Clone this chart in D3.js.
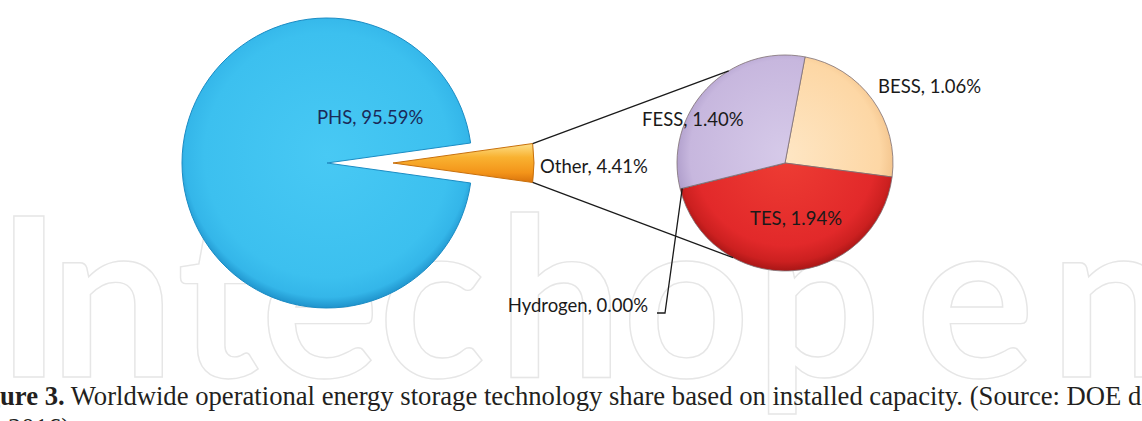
<!DOCTYPE html>
<html>
<head>
<meta charset="utf-8">
<script src="https://cdn.jsdelivr.net/npm/d3@7"></script>
<style>
  body { margin: 0; background: #fff; }
</style>
</head>
<body>
<svg id="chart" width="1142" height="421"></svg>
<script>
// main pie: "Other" is split out into the second pie
const mainNames = ["Other", "PHS"];
const mainValues = [4.41, 95.59];
// second pie (breakdown of Other)
const subNames = ["BESS", "TES", "Hydrogen", "FESS"];
const subValues = [1.06, 1.94, 0.00, 1.40];

const watermarkLetters = ["I", "n", "t", "e", "c", "h", "o", "p", "e", "n"];
const captionBold = "Figure 3.";
const captionRest = " Worldwide operational energy storage technology share based on installed capacity. (Source: DOE data)";
const captionNext = "2016).";

const width = 1142, height = 421;
const svg = d3.select("#chart");
svg.append("rect").attr("width", width).attr("height", height).attr("fill", "#fff");

const defs = svg.append("defs");

// gradients live in the local coords of the pie groups (centre = 0,0)
function radial(id, r, stops) {
    const g = defs.append("radialGradient").attr("id", id)
        .attr("gradientUnits", "userSpaceOnUse")
        .attr("cx", 0).attr("cy", -8).attr("r", r);
    stops.forEach(([o, c]) => g.append("stop").attr("offset", o).attr("stop-color", c));
}

const main = { cx: 327, cy: 163, r: 145, explode: 66 };
const sub = { cx: 785, cy: 163, r: 108 };

radial("gBlue", main.r + 8,
    [[0, "#48c9f4"], [0.8, "#3cc0ef"], [0.93, "#34b6e9"], [1, "#1f93cc"]]);
radial("gRed", sub.r + 8,
    [[0, "#ee3d34"], [0.78, "#e2292a"], [0.92, "#cc2020"], [1, "#a81616"]]);
radial("gPeach", sub.r + 8,
    [[0, "#fee6c4"], [0.82, "#fdd7a5"], [1, "#efbc82"]]);
radial("gLav", sub.r + 8,
    [[0, "#d6cae9"], [0.82, "#c7b7de"], [1, "#a694c4"]]);

const og = defs.append("linearGradient").attr("id", "gOrange")
    .attr("x1", 0).attr("y1", 0).attr("x2", 0).attr("y2", 1);
[[0, "#fde08a"], [0.35, "#f9b231"], [0.75, "#f39419"], [1, "#d9720b"]]
    .forEach(([o, c]) => og.append("stop").attr("offset", o).attr("stop-color", c));

// watermark behind everything
const wmCenters = [29, 112, 218, 320, 432, 560, 686, 818, 975, 1112];
svg.append("g")
    .selectAll("text")
    .data(watermarkLetters)
    .enter().append("text")
    .attr("x", (d, i) => wmCenters[i])
    .attr("y", 377)
    .attr("text-anchor", "middle")
    .attr("font-family", "Lato, sans-serif")
    .attr("font-weight", 700)
    .attr("font-size", 222)
    .attr("fill", "none")
    .attr("stroke", "#e6e6e6")
    .attr("stroke-width", 1.4)
    .text(d => d);

// ---- main pie ----
const half = Math.PI * mainValues[0] / 100;
const mainPie = d3.pie().sort(null).value(d => d)
    .startAngle(Math.PI / 2 - half).endAngle(Math.PI / 2 - half + 2 * Math.PI);
const mainArcs = mainPie(mainValues);
const arcMain = d3.arc().innerRadius(0).outerRadius(main.r);
const arcOther = d3.arc().innerRadius(0).outerRadius(main.r - 4);

const mainColors = ["url(#gOrange)", "url(#gBlue)"];
const mainStroke = ["#c8700c", "#1b8cc4"];

const mainG = svg.append("g").attr("transform", `translate(${main.cx},${main.cy})`);
function explodeOf(d, i) {
    if (i !== 0) return [0, 0];
    const mid = (d.startAngle + d.endAngle) / 2;
    return [Math.sin(mid) * main.explode, -Math.cos(mid) * main.explode];
}
mainG.selectAll("path")
    .data(mainArcs)
    .enter().append("path")
    .attr("transform", (d, i) => `translate(${explodeOf(d, i)})`)
    .attr("d", (d, i) => i === 0 ? arcOther(d) : arcMain(d))
    .attr("fill", (d, i) => mainColors[i])
    .attr("stroke", (d, i) => mainStroke[i])
    .attr("stroke-width", 1);

// ---- second pie ----
const subPie = d3.pie().sort(null).value(d => d)
    .startAngle(0.187).endAngle(0.187 + 2 * Math.PI);
const subArcs = subPie(subValues);
const arcSub = d3.arc().innerRadius(0).outerRadius(sub.r);
const subColors = { BESS: "url(#gPeach)", TES: "url(#gRed)", Hydrogen: "#ffffff", FESS: "url(#gLav)" };

const subG = svg.append("g").attr("transform", `translate(${sub.cx},${sub.cy})`);
subG.selectAll("path")
    .data(subArcs)
    .enter().append("path")
    .attr("d", arcSub)
    .attr("fill", (d, i) => subColors[subNames[i]])
    .attr("stroke", "#7d6f72")
    .attr("stroke-width", 0.8);

// ---- connector lines between Other slice and second pie ----
const other = mainArcs[0];
const [ex, ey] = explodeOf(other, 0);
const polar = (cx, cy, r, a) => [cx + Math.sin(a) * r, cy - Math.cos(a) * r];
const topFrom = polar(main.cx + ex, main.cy + ey, main.r - 4, other.startAngle);
const botFrom = polar(main.cx + ex, main.cy + ey, main.r - 4, other.endAngle);
const topTo = polar(sub.cx, sub.cy, sub.r, -31.4 * Math.PI / 180);
const botTo = polar(sub.cx, sub.cy, sub.r, 208.7 * Math.PI / 180);
const line = d3.line();
svg.append("path").attr("d", line([topFrom, topTo]))
    .attr("stroke", "#1a1a1a").attr("stroke-width", 1.3).attr("fill", "none");
svg.append("path").attr("d", line([botFrom, botTo]))
    .attr("stroke", "#1a1a1a").attr("stroke-width", 1.3).attr("fill", "none");

// ---- labels ----
const labelFont = "Lato, 'Open Sans', sans-serif";
const labelSize = 18.5;
const mainLabelPos = { PHS: [-10, -39], Other: [213, 10] };
const subLabelPos = { BESS: [93, -70], TES: [-35, 62], FESS: [-143, -37] };

mainNames.forEach((n, i) => {
    svg.append("text")
        .attr("x", main.cx + mainLabelPos[n][0])
        .attr("y", main.cy + mainLabelPos[n][1])
        .attr("font-family", labelFont).attr("font-size", labelSize)
        .attr("fill", n === "PHS" ? "#1b2a58" : "#1a1a1a")
        .text(`${n}, ${mainValues[i].toFixed(2)}%`);
});
subNames.forEach((n, i) => {
    if (!subLabelPos[n]) return;
    svg.append("text")
        .attr("x", sub.cx + subLabelPos[n][0])
        .attr("y", sub.cy + subLabelPos[n][1])
        .attr("font-family", labelFont).attr("font-size", labelSize)
        .attr("fill", "#1a1a1a")
        .text(`${n}, ${subValues[i].toFixed(2)}%`);
});

// Hydrogen label with leader line
const hi = subNames.indexOf("Hydrogen");
const hArc = subArcs[hi];
const hx = 648, hy = 312;
const hEdge = polar(sub.cx, sub.cy, sub.r * 0.98, hArc.startAngle);
svg.append("path")
    .attr("d", line([hEdge, [hx + 17, hy + 1], [hx + 9, hy + 1]]))
    .attr("stroke", "#1a1a1a").attr("stroke-width", 1.3).attr("fill", "none");
svg.append("text")
    .attr("x", hx).attr("y", hy)
    .attr("text-anchor", "end")
    .attr("font-family", labelFont).attr("font-size", labelSize)
    .attr("fill", "#1a1a1a")
    .text(`Hydrogen, ${subValues[hi].toFixed(2)}%`);

// ---- caption (cut off at the picture edges) ----
const capFont = "'Liberation Serif', 'Times New Roman', serif";
const probe = svg.append("text").attr("font-family", capFont).attr("font-size", 22)
    .text("ure 3. Worldwide operational energy storage technology share based on installed capacity. (Source: DOE ");
const capScale = 1118 / probe.node().getComputedTextLength();
probe.remove();
const capSize = 22 * capScale;
const figProbe = svg.append("text").attr("font-family", capFont).attr("font-size", capSize)
    .attr("font-weight", "bold").text("Fig");
const figW = figProbe.node().getComputedTextLength();
figProbe.remove();

const cap = svg.append("text")
    .attr("x", -figW).attr("y", 405)
    .attr("font-family", capFont).attr("font-size", capSize)
    .attr("fill", "#231f20");
cap.append("tspan").attr("font-weight", "bold").text(captionBold);
cap.append("tspan").text(captionRest);

svg.append("text")
    .attr("x", 8).attr("y", 437)
    .attr("font-family", capFont).attr("font-size", capSize)
    .attr("fill", "#231f20")
    .text(captionNext);
</script>
</body>
</html>
